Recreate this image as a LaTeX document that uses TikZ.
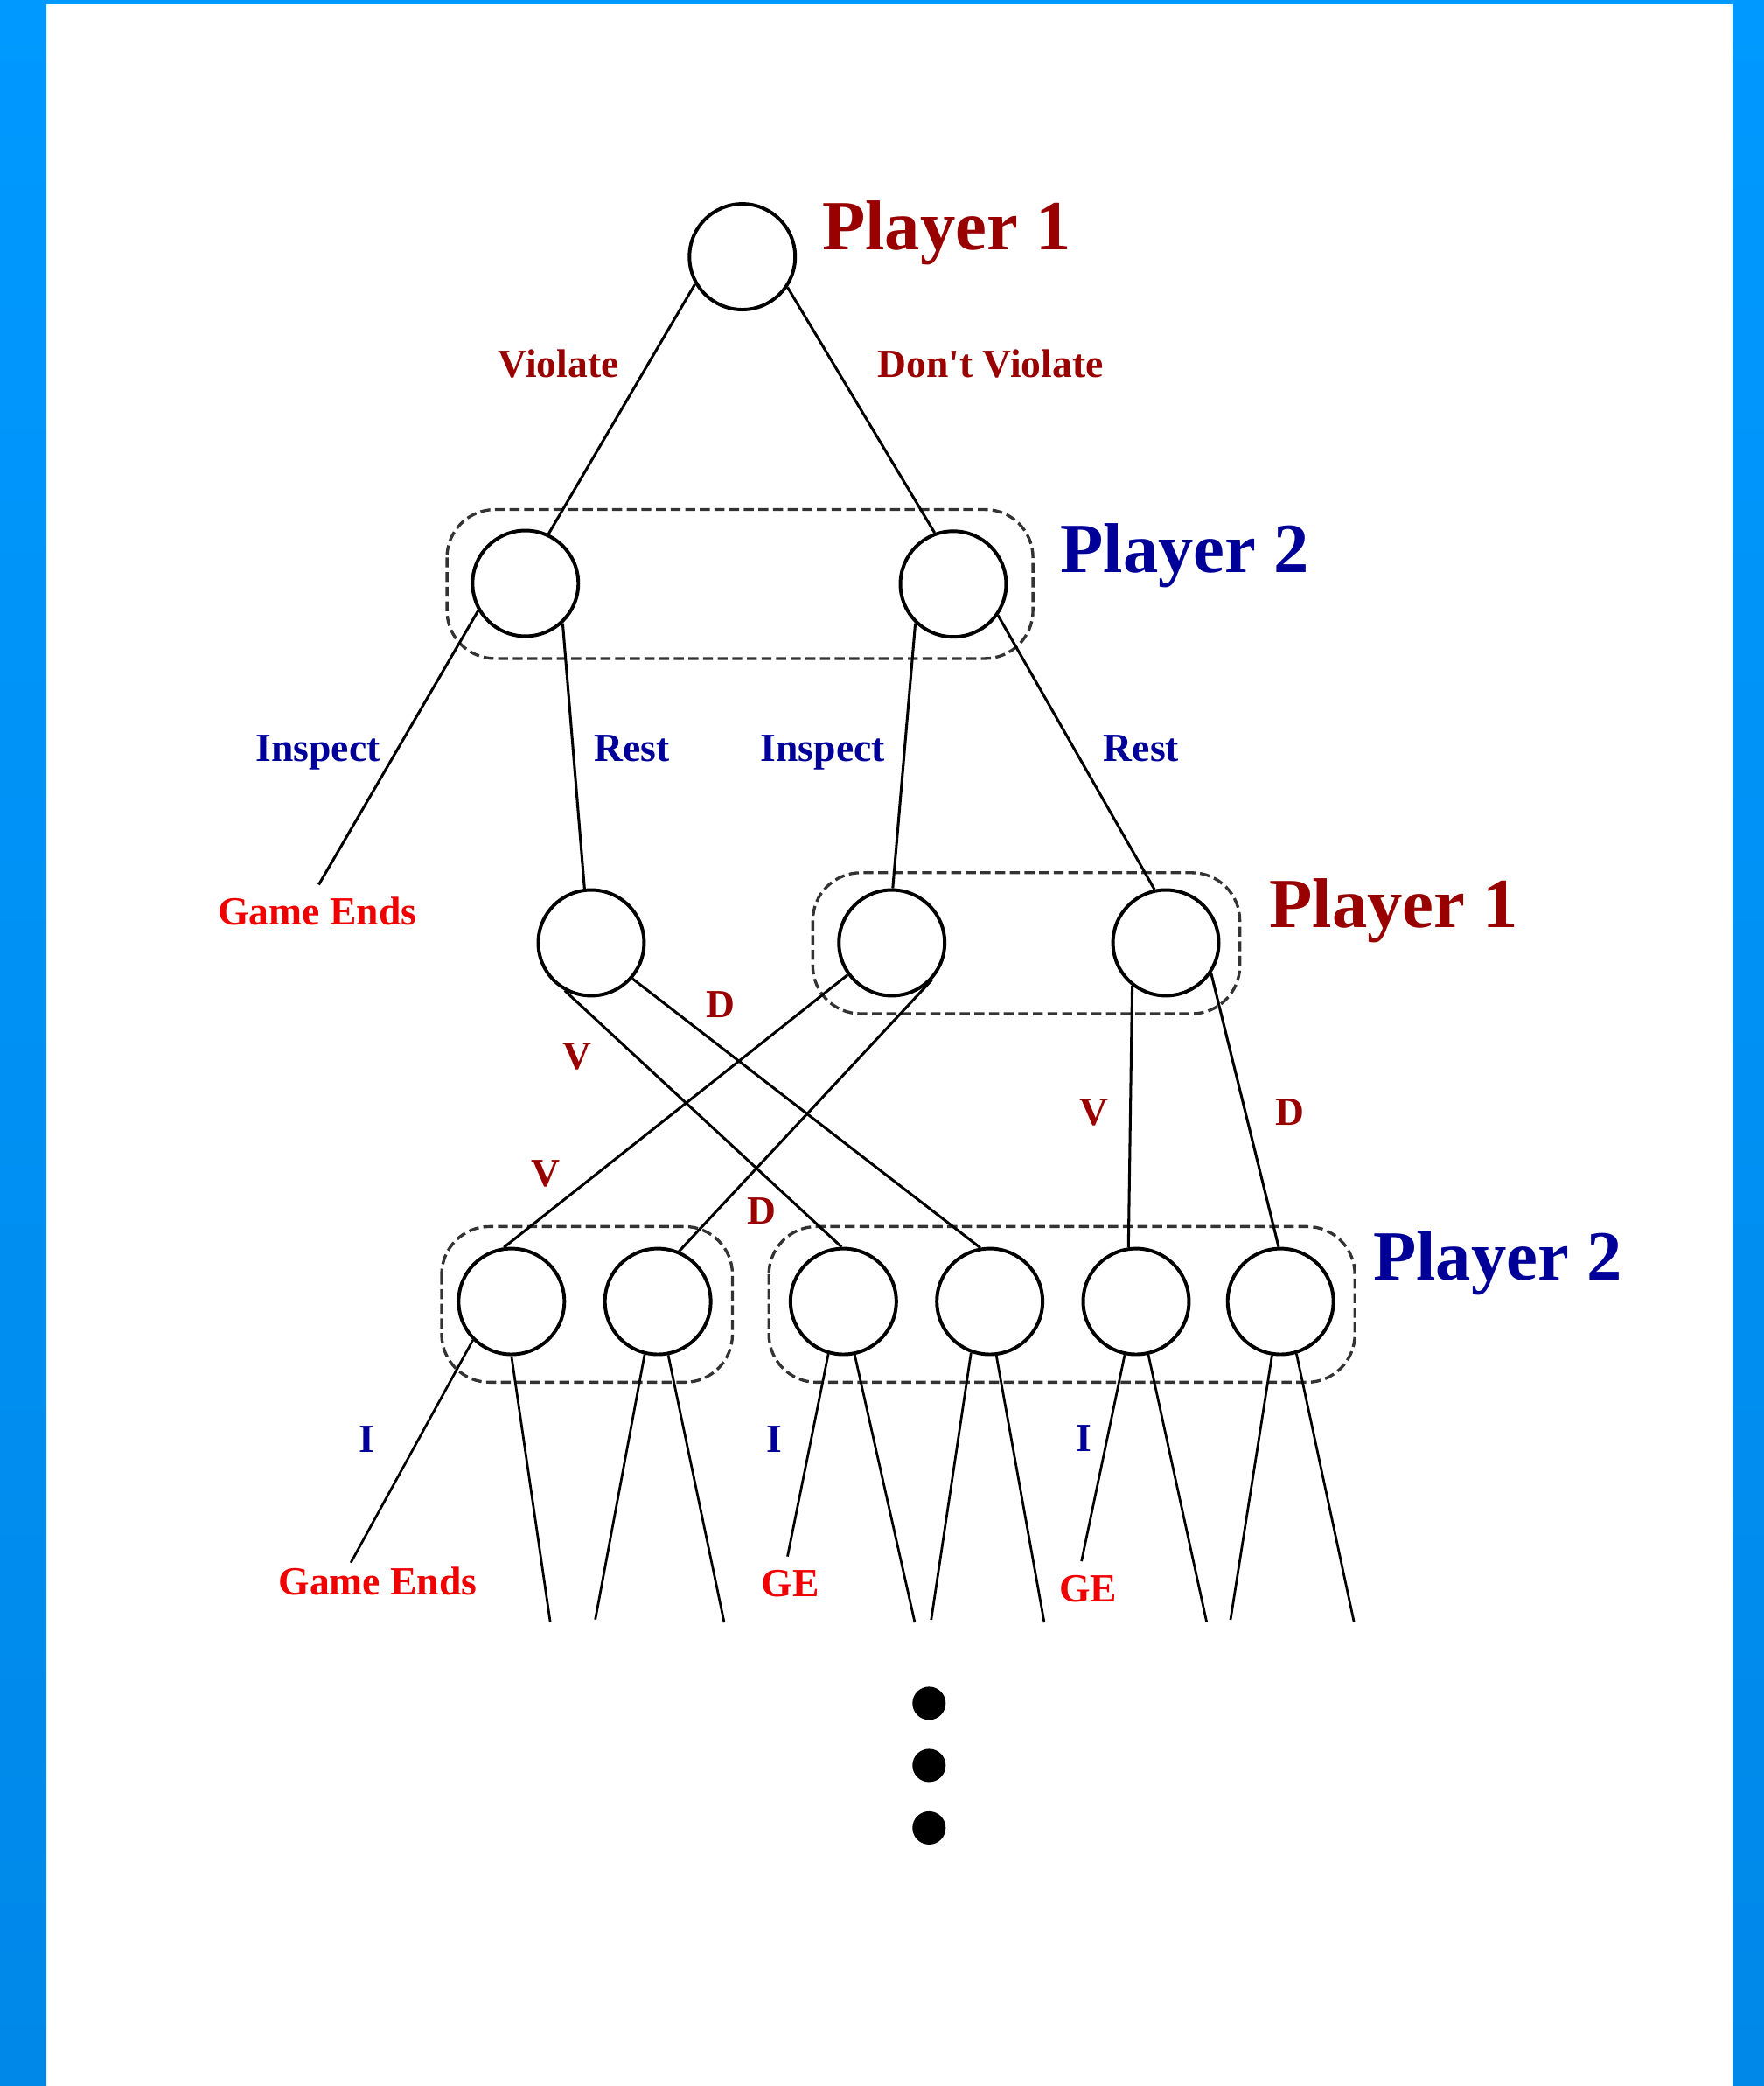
\documentclass[tikz,border=0pt]{standalone}
\usepackage{fontspec}
\setmainfont{Liberation Serif}[Ligatures=TeXOff]
\definecolor{dred}{HTML}{990000}
\definecolor{dblue}{HTML}{000099}
\definecolor{lred}{HTML}{F00000}
\definecolor{bordtop}{HTML}{0099FF}
\definecolor{bordbot}{HTML}{0088E8}
\begin{document}
\begin{tikzpicture}[x=1pt,y=-1pt]
\tikzset{
 gnode/.style={circle,draw=black,line width=2.6pt,minimum size=79.5pt,inner sep=0pt},
 br/.style={line width=2pt},
 leaf/.style={line width=1.8pt},
 infoset/.style={draw=black!80,line width=2.2pt,dash pattern=on 7.5pt off 3.5pt,rounded corners=36pt},
 plabel/.style={font=\fontsize{53}{60}\selectfont\bfseries,anchor=base west,inner sep=0pt},
 lab/.style={font=\fontsize{30}{34}\selectfont\bfseries,inner sep=0pt},
 labb/.style={lab,anchor=base},
}
% background and border
\fill[white] (0,0) rectangle (1326,1568);
\shade[top color=bordtop,bottom color=bordbot] (0,0) rectangle (35,1568);
\shade[top color=bordtop,bottom color=bordbot] (1302.4,0) rectangle (1326,1568);
\fill[bordtop] (0,0) rectangle (1326,3.3);
\useasboundingbox (0,0) rectangle (1326,1568);

% information sets
\draw[infoset] (336,383) rectangle (776.5,495);
\draw[infoset] (611,656) rectangle (932,762);
\draw[infoset] (332,922) rectangle (550.6,1039);
\draw[infoset] (578,922) rectangle (1018.5,1039);

% nodes
\node[gnode] (r) at (558,193) {};
\node[gnode] (a) at (395,438.5) {};
\node[gnode] (b) at (716.6,439) {};
\node[gnode] (c) at (444.4,708.7) {};
\node[gnode] (d) at (670.4,708.7) {};
\node[gnode] (e) at (876.4,708.7) {};
\node[gnode] (f1) at (384.5,978.3) {};
\node[gnode] (f2) at (494.5,978.3) {};
\node[gnode] (f3) at (634,978.3) {};
\node[gnode] (f4) at (744,978.3) {};
\node[gnode] (f5) at (854,978.3) {};
\node[gnode] (f6) at (962.6,978.3) {};

% free ends
\coordinate (ge0) at (239.6,665);
\coordinate (l1a) at (263.7,1174.7);
\coordinate (l1b) at (413.6,1219);
\coordinate (l2a) at (447.5,1217.4);
\coordinate (l2b) at (544.4,1219.6);
\coordinate (l3a) at (592,1170);
\coordinate (l3b) at (687.7,1219.6);
\coordinate (l4a) at (700,1217.6);
\coordinate (l4b) at (785,1219.6);
\coordinate (l5a) at (813,1173.6);
\coordinate (l5b) at (907,1219);
\coordinate (l6a) at (925,1217.6);
\coordinate (l6b) at (1017.8,1219);

% branches
\draw[br] (r.210) -- (a.65);
\draw[br] (r.326) -- (b.110);
\draw[br] (a.210) -- (ge0);
\draw[br] (a.313) -- (c.97);
\draw[br] (b.226) -- (d.89);
\draw[br] (b.325) -- (e.102);
\draw[br] (c.241) -- (f3.92);
\draw[br] (c.319) -- (f4.100);
\draw[br] (d.216) -- (f1.98);
\draw[br] (d.317) -- (f2.67);
\draw[br] (e.232) -- (f5.98);
\draw[br] (e.326) -- (f6.92);

\draw[leaf] (f1.225) -- (l1a);
\draw[leaf] (f1.270) -- (l1b);
\draw[leaf] (f2.256) -- (l2a);
\draw[leaf] (f2.281) -- (l2b);
\draw[leaf] (f3.254) -- (l3a);
\draw[leaf] (f3.282) -- (l3b);
\draw[leaf] (f4.250) -- (l4a);
\draw[leaf] (f4.277) -- (l4b);
\draw[leaf] (f5.258) -- (l5a);
\draw[leaf] (f5.283) -- (l5b);
\draw[leaf] (f6.261) -- (l6a);
\draw[leaf] (f6.287) -- (l6b);

% player labels
\node[plabel,text=dred] (pl1) at (618,188) {Player 1};
\node[plabel,text=dblue] (pl2) at (797,430) {Player 2};
\node[plabel,text=dred] (pl3) at (954,697) {Player 1};
\node[plabel,text=dblue] (pl4) at (1032,962) {Player 2};

% action labels
\node[labb,text=dred] (tv) at (420,283.7) {Violate};
\node[labb,text=dred] (tdv) at (744.5,283.7) {Don't Violate};
\node[labb,text=dblue] (ti1) at (239,572) {Inspect};
\node[labb,text=dblue] (tr1) at (475,572) {Rest};
\node[labb,text=dblue] (ti2) at (618.5,572) {Inspect};
\node[labb,text=dblue] (tr2) at (858,572) {Rest};
\node[labb,text=lred] (tge0) at (238.5,695) {Game Ends};

\node[lab,text=dred] (v1) at (434,794) {V};
\node[lab,text=dred] (d1) at (542,755) {D};
\node[lab,text=dred] (v2) at (410,882) {V};
\node[lab,text=dred] (d2) at (572.5,910) {D};
\node[lab,text=dred] (v3) at (822.6,836) {V};
\node[lab,text=dred] (d3) at (970,836) {D};

\node[lab,text=dblue] (i1) at (276,1082) {I};
\node[lab,text=dblue] (i2) at (582,1082) {I};
\node[lab,text=dblue] (i3) at (815,1081) {I};

\node[labb,text=lred] (tge1) at (284,1199) {Game Ends};
\node[labb,text=lred] (tge2) at (594,1200) {GE};
\node[labb,text=lred] (tge3) at (818,1204) {GE};

% continuation dots
\fill[black] (698.4,1280.3) circle (12.5);
\fill[black] (698.4,1327) circle (12.5);
\fill[black] (698.4,1374) circle (12.5);
\end{tikzpicture}
\end{document}
